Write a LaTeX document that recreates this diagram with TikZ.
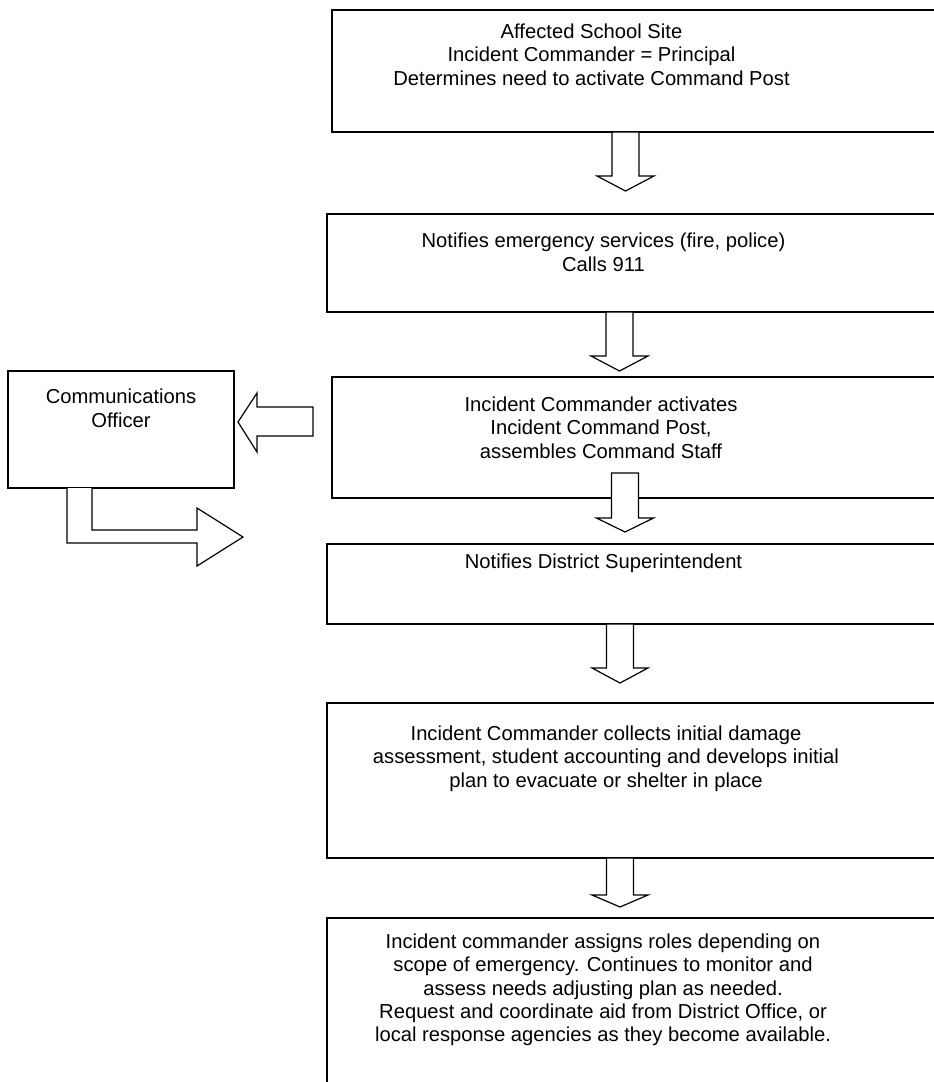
\documentclass[tikz,border=0pt]{standalone}
\usepackage{fontspec}
\setmainfont{Liberation Sans}
\newcommand\blkdown[5]{%
  \draw[blk] (#1-13.5,#2) -- (#1-13.5,#3) -- (#1-#5,#3) -- (#1,#4) -- (#1+#5,#3) -- (#1+13.5,#3) -- (#1+13.5,#2) -- cycle;}
\begin{document}
\begin{tikzpicture}[x=0.75pt,y=-0.75pt,
  box/.style={draw=black,line width=1.1pt,fill=white},
  blk/.style={draw=black,line width=0.9pt,fill=white,line join=miter},
  txt/.style={font=\fontsize{15.15pt}{17.5pt}\selectfont,align=center,inner sep=0pt,anchor=north}]
\useasboundingbox (0,0) rectangle (934,1082);
\clip (0,0) rectangle (934,1082);
\fill[white] (0,0) rectangle (934,1082);
% boxes
\draw[box] (332,10) rectangle (960,132);
\draw[box] (327,214) rectangle (960,312);
\draw[box] (332,377) rectangle (960,498);
\draw[box] (327,544) rectangle (960,624);
\draw[box] (327,703) rectangle (960,858);
\draw[box] (327,918) rectangle (960,1100);
\draw[box] (8,371) rectangle (234,488);
% arrows
\blkdown{625.5}{132}{176}{191}{28.5}
\blkdown{619.5}{312}{356}{371}{28.5}
\blkdown{625}{473}{518}{532}{28.5}
\blkdown{620}{624}{668}{683}{28}
\blkdown{620}{858}{895}{907}{28}
\draw[blk] (313,407) -- (257,407) -- (257,393) -- (238,422) -- (257,452) -- (257,436) -- (313,436) -- cycle;
\draw[blk] (67,488) -- (67,543) -- (197,543) -- (197,566) -- (243,537) -- (197,508) -- (197,530) -- (92,530) -- (92,488);
% texts
\node[txt] (t1) at (591.5,23.5) {Affected School Site\\Incident Commander = Principal\\Determines need to activate Command Post};
\node[txt] (t2) at (603.5,233) {Notifies emergency services (fire, police)\\Calls 911};
\node[txt] (t3) at (601,396.5) {Incident Commander activates\\Incident Command Post,\\assembles Command Staff};
\node[txt] (t4) at (603.5,553.5) {Notifies District Superintendent};
\node[txt] (t5) at (606,725.5) {Incident Commander collects initial damage\\assessment, student accounting and develops initial\\plan to evacuate or shelter in place};
\node[txt] (t6) at (603,933.5) {Incident commander assigns roles depending on\\scope of emergency. Continues to monitor and\\assess needs adjusting plan as needed.\\Request and coordinate aid from District Office, or\\local response agencies as they become available.};
\node[txt] (tc) at (121,389) {Communications\\Officer};
\end{tikzpicture}
\end{document}
